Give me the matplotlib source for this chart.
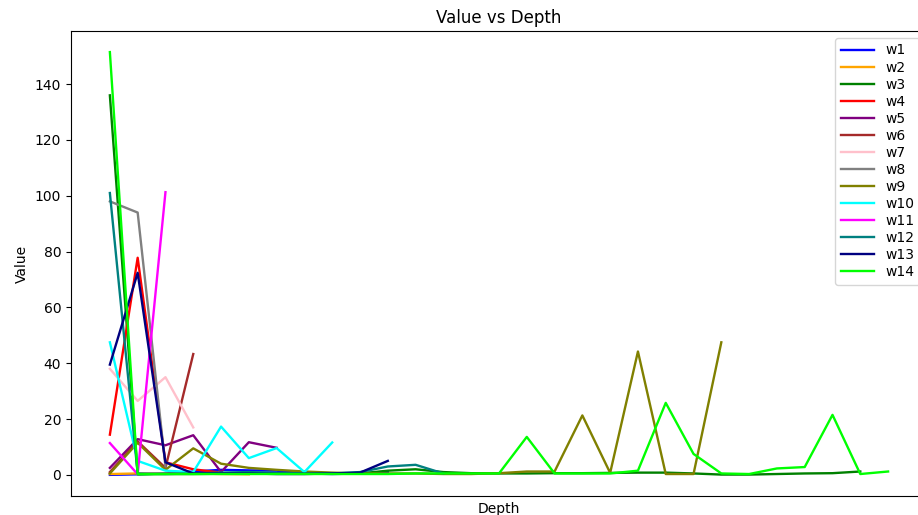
import numpy as np
import matplotlib
matplotlib.use("Agg")
import matplotlib.pyplot as plt

# well readings by depth step (x is just the depth index, no ticks shown)
names = ["w1", "w2", "w3", "w4", "w5", "w6", "w7",
         "w8", "w9", "w10", "w11", "w12", "w13", "w14"]
colors = ["blue", "orange", "green", "red", "purple", "brown", "pink",
          "gray", "olive", "cyan", "magenta", "teal", "navy", "lime"]

w1 = [0, 0.2, 0.5, 1.2, 1.8, 1.6, 1.5, 0.5, 0.3, 0.5, 1.0]
w2 = [0.3, 0.5, 0.4, 0.5, 0.3, 0.2]
w3 = [136, 0.2, 0.3, 0.3, 0.4, 0.4, 0.4, 0.4, 0.5, 0.5, 1.5, 2.0, 1.0, 0.6,
      0.5, 0.5, 0.6, 0.6, 0.7, 0.8, 0.8, 0.5, 0.1, 0.1, 0.3, 0.5, 0.6, 1.2]
w4 = [14.4, 77.8, 4.5, 2.0, 0.8]
w5 = [2.5, 12.8, 10.6, 14.2, 1.0, 11.7, 9.7]
w6 = [1.0, 12.0, 2.5, 43.3]
w7 = [38.0, 26.5, 35.0, 17.0]
w8 = [98.0, 94.0, 3.0]
w9 = [0.5, 11.5, 1.8, 9.5, 4.0, 2.5, 1.8, 1.2, 0.8, 0.5, 0.5, 0.5, 0.3, 0.3,
      0.6, 1.2, 1.2, 21.3, 0.7, 44.2, 0.3, 0.3, 47.5]
w10 = [47.5, 5.0, 1.5, 1.0, 17.3, 6.0, 9.6, 1.0, 11.6]
w11 = [11.4, 0.2, 101.3]
w12 = [101.0, 0.5, 0.3, 0.5, 0.8, 1.0, 0.7, 0.5, 0.5, 1.0, 3.0, 3.6, 0.5]
w13 = [39.5, 72.4, 4.5, 0.5, 0.5, 0.5, 0.3, 0.3, 0.5, 0.8, 5.0]
w14 = [151.5, 0.2, 0.3, 0.3, 0.3, 0.3, 0.3, 0.3, 0.3, 0.3, 0.3, 0.5, 0.5, 0.5,
       0.5, 13.6, 0.5, 0.5, 0.5, 1.5, 25.8, 7.5, 0.5, 0.3, 2.3, 2.8, 21.5, 0.3, 1.2]

series = [w1, w2, w3, w4, w5, w6, w7, w8, w9, w10, w11, w12, w13, w14]

fig = plt.figure(figsize=(9.18, 5.15), dpi=100)
# axes runs a little past the right edge of the figure
ax = fig.add_axes([0.0773, 0.0369, 0.9325, 0.903])

for name, col, vals in zip(names, colors, series):
    ax.plot(np.arange(len(vals)), vals, color=col, label=name, linewidth=1.7)

ax.set_xticks([])
ax.set_yticks(np.arange(0, 141, 20))
ax.set_xlabel("Depth")
ax.set_ylabel("Value")
ax.set_title("Value vs Depth")
ax.legend(loc="upper right", labelspacing=0.22, handlelength=2.4)

fig.savefig("out.png", dpi=100)
